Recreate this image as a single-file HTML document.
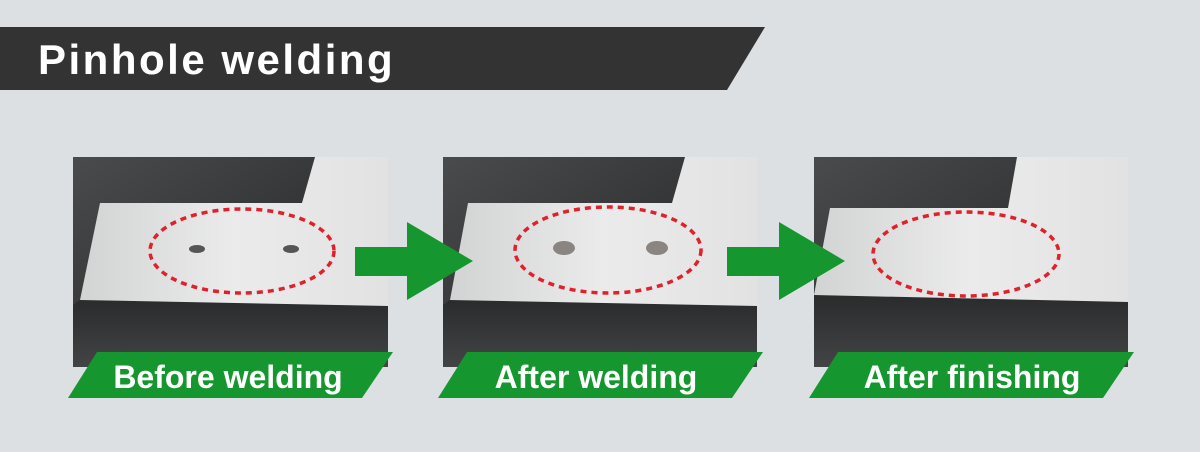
<!DOCTYPE html>
<html><head><meta charset="utf-8"><style>
body{margin:0;background:#dde0e3;}
svg{display:block}
text{font-family:"Liberation Sans",sans-serif;font-weight:bold;fill:#fff}
</style></head><body>
<svg width="1200" height="452" viewBox="0 0 1200 452" xmlns="http://www.w3.org/2000/svg">
<defs>
<linearGradient id="dk" x1="0" y1="0" x2="1" y2="1"><stop offset="0" stop-color="#4a4b4c"/><stop offset="1" stop-color="#1e1f20"/></linearGradient>
<linearGradient id="lt" x1="0" y1="0" x2="1" y2="0"><stop offset="0" stop-color="#d2d3d3"/><stop offset="0.5" stop-color="#ebebeb"/><stop offset="1" stop-color="#e2e2e2"/></linearGradient>
<linearGradient id="fr" x1="0" y1="0" x2="0" y2="1"><stop offset="0" stop-color="#2a2b2c"/><stop offset="1" stop-color="#434445"/></linearGradient>
</defs>
<rect width="1200" height="452" fill="#dde0e3"/>
<polygon points="0,27 765,27 727,90 0,90" fill="#333333"/>
<text x="38" y="74" font-size="42" style="letter-spacing:2.5px">Pinhole welding</text>

<!-- panel 1 -->
<rect x="73" y="157" width="315" height="210" fill="url(#dk)"/>
<polygon points="80,300 388,306 388,367 73,367 73,305" fill="url(#fr)"/>
<polygon points="100,203 302,203 315,157 388,157 388,306 80,300" fill="url(#lt)"/>
<ellipse cx="242" cy="251" rx="92" ry="42" fill="none" stroke="#e0202a" stroke-width="3.5" stroke-dasharray="6,5"/>
<ellipse cx="197" cy="249" rx="8" ry="4" fill="#555"/>
<ellipse cx="291" cy="249" rx="8" ry="4" fill="#555"/>

<!-- panel 2 -->
<rect x="443" y="157" width="314" height="210" fill="url(#dk)"/>
<polygon points="450,300 757,306 757,367 443,367 443,305" fill="url(#fr)"/>
<polygon points="468,203 672,203 685,157 757,157 757,306 450,300" fill="url(#lt)"/>
<ellipse cx="608" cy="250" rx="93" ry="43" fill="none" stroke="#e0202a" stroke-width="3.5" stroke-dasharray="6,5"/>
<ellipse cx="564" cy="248" rx="11" ry="7" fill="#8a8580"/>
<ellipse cx="657" cy="248" rx="11" ry="7" fill="#8a8580"/>

<!-- panel 3 -->
<rect x="814" y="157" width="314" height="210" fill="url(#dk)"/>
<polygon points="814,295 1128,302 1128,367 814,367" fill="url(#fr)"/>
<polygon points="830,208 1008,208 1017,157 1128,157 1128,302 814,295" fill="url(#lt)"/>
<ellipse cx="966" cy="254" rx="93" ry="42" fill="none" stroke="#e0202a" stroke-width="3.5" stroke-dasharray="6,5"/>

<!-- arrows -->
<polygon points="355,247 407,247 407,222 473,261 407,300 407,276 355,276" fill="#16962e"/>
<polygon points="727,247 779,247 779,222 845,261 779,300 779,276 727,276" fill="#16962e"/>

<!-- labels -->
<polygon points="97,352 393,352 362,398 68,398" fill="#16962e"/>
<text x="228" y="388" font-size="32" text-anchor="middle">Before welding</text>
<polygon points="467,352 763,352 732,398 438,398" fill="#16962e"/>
<text x="596" y="388" font-size="32" text-anchor="middle">After welding</text>
<polygon points="838,352 1134,352 1103,398 809,398" fill="#16962e"/>
<text x="972" y="388" font-size="32" text-anchor="middle">After finishing</text>
</svg>
</body></html>
